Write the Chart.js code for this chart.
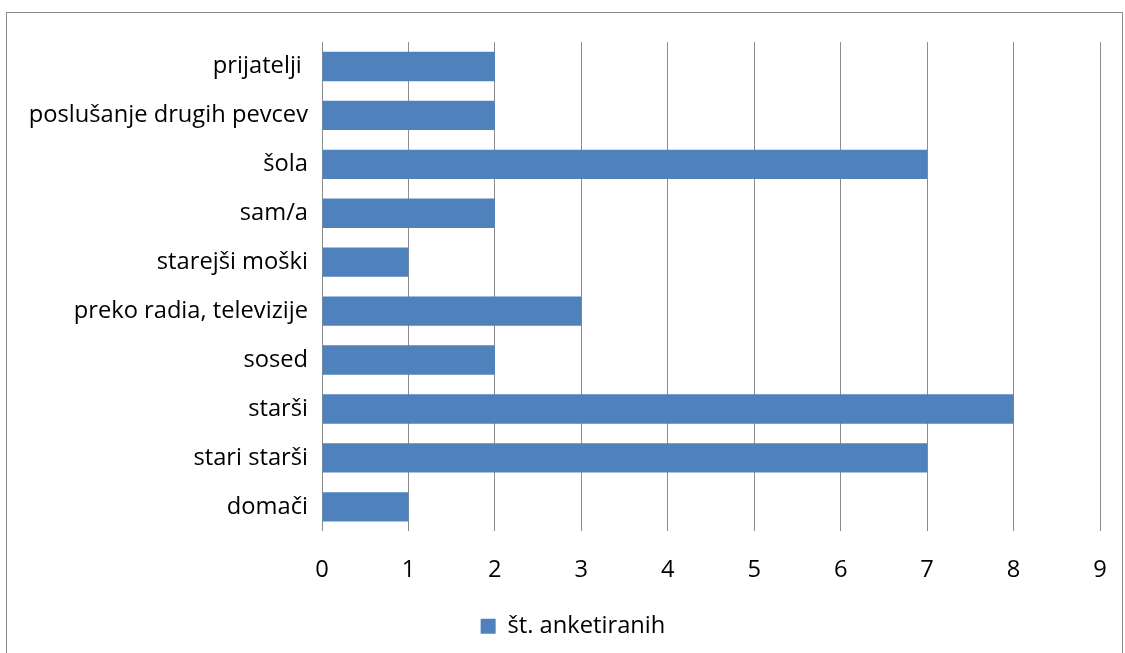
<!DOCTYPE html>
<html>
<head>
<meta charset="utf-8">
<script src="https://cdn.jsdelivr.net/npm/chart.js@4/dist/chart.umd.min.js"></script>
<style>
  body { margin: 0; background: #fff; }
  #wrap { position: relative; width: 1125px; height: 653px; }
  #frame { position: absolute; left: 6px; top: 12px; width: 1117px; height: 650px; border: 1px solid #8c8c8c; box-sizing: border-box; }
  canvas { position: absolute; left: 0; top: 0; }
</style>
</head>
<body>
<div id="wrap">
  <div id="frame"></div>
  <canvas id="chart" width="1125" height="653"></canvas>
</div>
<script>
const categories = [
  'prijatelji ',
  'poslušanje drugih pevcev',
  'šola',
  'sam/a',
  'starejši moški',
  'preko radia, televizije',
  'sosed',
  'starši',
  'stari starši',
  'domači'
];
const respondents = [2, 2, 7, 2, 1, 3, 2, 8, 7, 1];
const seriesName = 'št. anketiranih';

const font = { family: '"Open Sans", Lato, sans-serif', size: 23.7 };

// nudge the legend to the right, it sits under the middle of the plot in the original
const legendShift = {
  id: 'legendShift',
  afterLayout(chart) {
    chart.legend.left += 23;
    chart.legend.right += 23;
  }
};

const ctx = document.getElementById('chart').getContext('2d');
new Chart(ctx, {
  type: 'bar',
  data: {
    labels: categories,
    datasets: [{
      label: seriesName,
      data: respondents,
      backgroundColor: '#4F81BD',
      borderWidth: 0,
      barPercentage: 0.6,
      categoryPercentage: 1
    }]
  },
  options: {
    indexAxis: 'y',
    responsive: false,
    animation: false,
    layout: { padding: { left: 0, right: 25, top: 42, bottom: 5 } },
    scales: {
      x: {
        min: 0,
        max: 9,
        ticks: { stepSize: 1, color: '#000', font: font, padding: 25 },
        grid: { color: '#8c8c8c', lineWidth: 1, drawTicks: false },
        border: { display: false },
        afterFit: (scale) => {
          scale.height = 73;
          scale.paddingLeft = 0;
          scale.paddingRight = 0;
        }
      },
      y: {
        ticks: { color: '#000', font: font, padding: 14 },
        grid: { display: false, drawTicks: false },
        border: { display: false },
        afterFit: (scale) => { scale.width = 322; }
      }
    },
    plugins: {
      legend: {
        position: 'bottom',
        labels: { color: '#000', font: font, boxWidth: 15, boxHeight: 15, padding: 10 }
      },
      tooltip: { enabled: false }
    }
  },
  plugins: [legendShift]
});
</script>
</body>
</html>
